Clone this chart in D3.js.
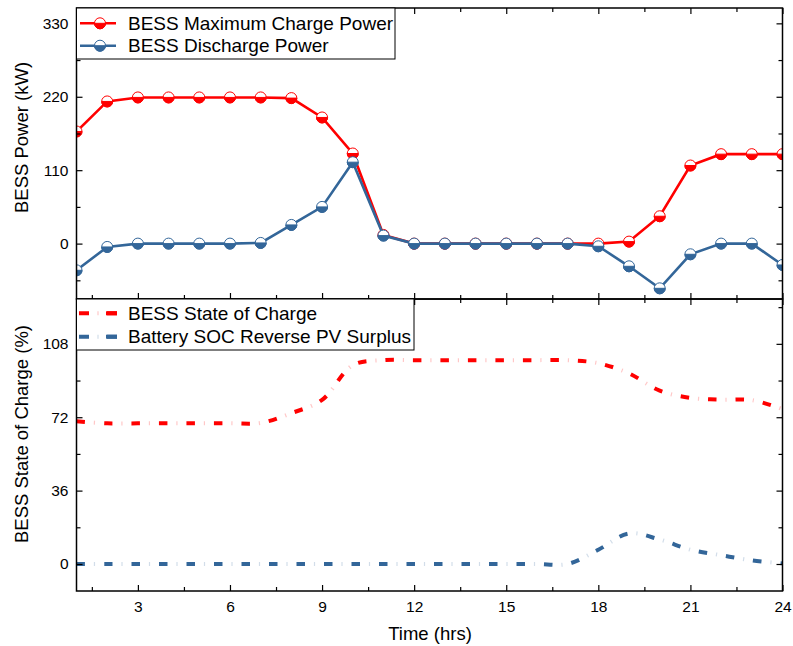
<!DOCTYPE html>
<html>
<head>
<meta charset="utf-8">
<script src="https://cdn.jsdelivr.net/npm/d3@7"></script>
<style>
  html, body { margin: 0; padding: 0; background: #fff; }
  svg { display: block; font-family: "Liberation Sans", Arial, sans-serif; }
</style>
</head>
<body>
<svg id="chart" width="793" height="646"></svg>
<script>
// ---- Data ----
const hours = d3.range(1, 25);
const maxChargePower = [168, 213, 219, 219, 219, 219, 219, 218, 189, 135, 13, 0, 0, 0, 0, 0, 0, 0, 3, 41, 117, 134, 134, 134];
const dischargePower = [-40, -5, 0, 0, 0, 0, 1, 28, 55, 122, 12, 0, 0, 0, 0, 0, 0, -4, -34, -67, -16, 0, 0, -32];
const bessSOC = [70, 69, 69, 69, 69, 69, 69.2, 74, 80.5, 97.5, 100, 100, 100, 100, 100, 100, 100, 98.5, 93.5, 85, 81.5, 80.6, 80.4, 76];
const reverseSOC = [0, 0, 0, 0, 0, 0, 0, 0, 0, 0, 0, 0, 0, 0, 0, 0, 0, 7, 15, 12, 7, 4.3, 1.8, 0.3];
const xTicks = [3, 6, 9, 12, 15, 18, 21, 24];
const topYTicks = [0, 110, 220, 330];
const botYTicks = [0, 36, 72, 108];
const topLegend = ["BESS Maximum Charge Power", "BESS Discharge Power"];
const botLegend = ["BESS State of Charge", "Battery SOC Reverse PV Surplus"];

// ---- Layout ----
const RED = "#ff0000", BLUE = "#336699";
const L = 76.5, R = 782.5;
const topP = { t: 8, b: 299 };
const botP = { t: 299, b: 591 };

const svg = d3.select("#chart");
const x = d3.scaleLinear().domain([1, 24]).range([L, R]);
const yT = d3.scaleLinear().domain([-83, 353]).range([topP.b, topP.t]);
const yB = d3.scaleLinear().domain([-13.25, 130]).range([botP.b, botP.t]);

const xMinor = d3.range(1.5, 24.01, 1.5).filter(v => xTicks.indexOf(v) < 0);
const topMinor = [-55, 55, 165, 275];
const botMinor = [18, 54, 90, 126];

function drawFrame(p, yScale, yMaj, yMin, labelsX) {
  const g = svg.append("g");
  const mj = 6, mn = 4;
  const xb = d3.axisBottom(x).tickValues(xTicks).tickSize(-mj).tickFormat(labelsX ? d3.format("d") : "");
  const gxb = g.append("g").attr("transform", `translate(0,${p.b})`).call(xb);
  g.append("g").attr("transform", `translate(0,${p.b})`).call(d3.axisBottom(x).tickValues(xMinor).tickSize(-mn).tickFormat(""));
  g.append("g").attr("transform", `translate(0,${p.t})`).call(d3.axisTop(x).tickValues(xTicks).tickSize(-mj).tickFormat(""));
  g.append("g").attr("transform", `translate(0,${p.t})`).call(d3.axisTop(x).tickValues(xMinor).tickSize(-mn).tickFormat(""));
  const gyl = g.append("g").attr("transform", `translate(${L},0)`).call(d3.axisLeft(yScale).tickValues(yMaj).tickSize(-mj).tickFormat(d3.format("d")));
  g.append("g").attr("transform", `translate(${L},0)`).call(d3.axisLeft(yScale).tickValues(yMin).tickSize(-mn).tickFormat(""));
  g.append("g").attr("transform", `translate(${R},0)`).call(d3.axisRight(yScale).tickValues(yMaj).tickSize(-mj).tickFormat(""));
  g.append("g").attr("transform", `translate(${R},0)`).call(d3.axisRight(yScale).tickValues(yMin).tickSize(-mn).tickFormat(""));
  g.selectAll(".domain").remove();
  g.selectAll(".tick line").attr("stroke", "#000").attr("stroke-width", 1.2);
  gyl.selectAll(".tick text").attr("x", -8).attr("font-size", 15.5).attr("fill", "#000")
     .attr("font-family", "Liberation Sans, Arial, sans-serif");
  if (labelsX) {
    gxb.selectAll(".tick text").attr("y", 10).attr("font-size", 15.5).attr("fill", "#000")
       .attr("font-family", "Liberation Sans, Arial, sans-serif");
  }
  g.append("rect").attr("x", L).attr("y", p.t).attr("width", R - L).attr("height", p.b - p.t)
    .attr("fill", "none").attr("stroke", "#000").attr("stroke-width", 1.5);
}

const defs = svg.append("defs");
defs.append("clipPath").attr("id", "clipTop").append("rect")
  .attr("x", L).attr("y", topP.t).attr("width", R - L).attr("height", topP.b - topP.t);
defs.append("clipPath").attr("id", "clipBot").append("rect")
  .attr("x", L).attr("y", botP.t).attr("width", R - L).attr("height", botP.b - botP.t);

const MR = 5.5;
function halfMarker(g, cx, cy, color) {
  const m = g.append("g").attr("transform", `translate(${cx},${cy})`);
  m.append("circle").attr("r", MR).attr("fill", "#fff").attr("stroke", color).attr("stroke-width", 1);
  m.append("path").attr("d", `M${-MR},0 A${MR},${MR} 0 0 0 ${MR},0 Z`).attr("fill", color).attr("stroke", color).attr("stroke-width", 1);
}

// ---- Top panel data ----
const gTop = svg.append("g").attr("clip-path", "url(#clipTop)");
const lineT = d3.line().x((d, i) => x(hours[i])).y(d => yT(d));
[[maxChargePower, RED], [dischargePower, BLUE]].forEach(([arr, col]) => {
  gTop.append("path").attr("d", lineT(arr)).attr("fill", "none").attr("stroke", col).attr("stroke-width", 2.6);
  arr.forEach((v, i) => halfMarker(gTop, x(hours[i]), yT(v), col));
});

// ---- Bottom panel data (dash + faint dot) ----
const gBot = svg.append("g").attr("clip-path", "url(#clipBot)");
const lineB = d3.line().x((d, i) => x(hours[i])).y(d => yB(d)).curve(d3.curveCatmullRom.alpha(0.5));
function dashDot(g, d, col, w, dash, gap) {
  const period = dash + gap;
  g.append("path").attr("d", d).attr("fill", "none").attr("stroke", col)
    .attr("stroke-width", w).attr("stroke-dasharray", `${dash},${gap}`);
  g.append("path").attr("d", d).attr("fill", "none").attr("stroke", col).attr("stroke-opacity", 0.22)
    .attr("stroke-width", w).attr("stroke-dasharray", `1.2,${period - 1.2}`)
    .attr("stroke-dashoffset", -(dash + gap / 2 - 0.6));
}
[[bessSOC, RED], [reverseSOC, BLUE]].forEach(([arr, col]) => {
  dashDot(gBot, lineB(arr), col, 4, 8.5, 19);
});

drawFrame(topP, yT, topYTicks, topMinor, false);
drawFrame(botP, yB, botYTicks, botMinor, true);

// ---- Legends ----
function legend(y0, w, h, items, rowY, kind) {
  const g = svg.append("g");
  g.append("rect").attr("x", L).attr("y", y0).attr("width", w).attr("height", h)
    .attr("fill", "#fff").attr("stroke", "#000").attr("stroke-width", 1);
  items.forEach((it, i) => {
    const cy = rowY[i];
    if (kind === "marker") {
      g.append("line").attr("x1", 80).attr("x2", 116).attr("y1", cy).attr("y2", cy)
        .attr("stroke", it.color).attr("stroke-width", 2.6);
      halfMarker(g, 100, cy, it.color);
    } else {
      g.append("line").attr("x1", 79).attr("x2", 117).attr("y1", cy).attr("y2", cy)
        .attr("stroke", it.color).attr("stroke-width", 4).attr("stroke-dasharray", "10,18");
      g.append("line").attr("x1", 79).attr("x2", 117).attr("y1", cy).attr("y2", cy)
        .attr("stroke", it.color).attr("stroke-opacity", 0.22).attr("stroke-width", 4)
        .attr("stroke-dasharray", "1.2,60").attr("stroke-dashoffset", -18.4);
      g.append("line").attr("x1", 106).attr("x2", 117).attr("y1", cy).attr("y2", cy)
        .attr("stroke", it.color).attr("stroke-width", 4);
    }
    g.append("text").attr("x", 128).attr("y", cy + 6.7).attr("font-size", 19).attr("fill", "#000").text(it.label);
  });
}
legend(topP.t, 318.5, 51, [{ label: topLegend[0], color: RED }, { label: topLegend[1], color: BLUE }], [23.3, 45.7], "marker");
legend(botP.t, 337.5, 51, [{ label: botLegend[0], color: RED }, { label: botLegend[1], color: BLUE }], [313.3, 336.7], "dash");

// ---- Axis titles ----
svg.append("text").attr("transform", `translate(28,${(topP.t + topP.b) / 2 - 16}) rotate(-90)`)
  .attr("text-anchor", "middle").attr("font-size", 18.5).attr("fill", "#000").text("BESS Power (kW)");
svg.append("text").attr("transform", `translate(28,434) rotate(-90)`)
  .attr("text-anchor", "middle").attr("font-size", 18.5).attr("fill", "#000").text("BESS State of Charge (%)");
svg.append("text").attr("x", 430).attr("y", 640).attr("text-anchor", "middle")
  .attr("font-size", 18.5).attr("fill", "#000").text("Time (hrs)");
</script>
</body>
</html>
